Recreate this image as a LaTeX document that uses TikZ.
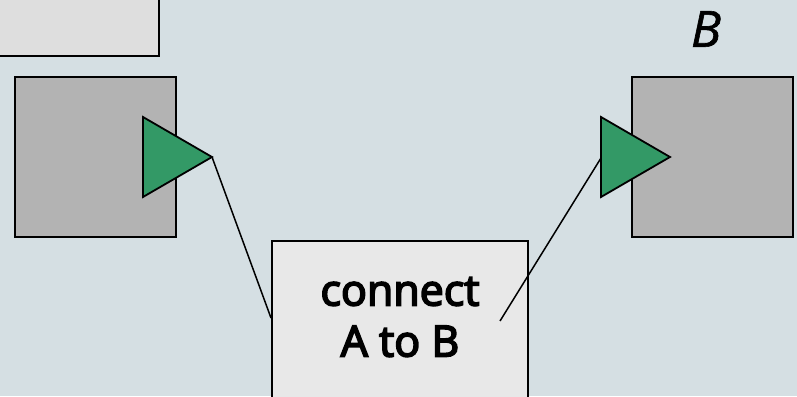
\documentclass[tikz,border=0pt]{standalone}
\usepackage{fontspec}
\setmainfont{Open Sans}
\newfontfamily\mediumfont[FakeBold=4]{Open Sans}
\newfontfamily\labelfont[FakeBold=1.2]{Open Sans}
\definecolor{bgcol}{HTML}{D5DFE3}
\definecolor{blockgray}{HTML}{B3B3B3}
\definecolor{portgreen}{HTML}{339966}
\definecolor{notefill}{HTML}{DEDEDE}
\definecolor{boxfill}{HTML}{E8E8E8}
\begin{document}
\begin{tikzpicture}[x=1pt,y=-1pt,
  outline/.style={draw=black,line width=1.8pt},
  block/.style={outline,fill=blockgray},
  port/.style={outline,fill=portgreen,line join=miter},
  wire/.style={draw=black,line width=1.5pt}]
  \useasboundingbox (0,0) rectangle (797,396);
  \clip (0,0) rectangle (797,396);
  \fill[bgcol] (0,0) rectangle (797,396);

  % partially visible note at the top left
  \draw[outline,fill=notefill] (-10,-10) rectangle (159,56);

  % block A with its output port
  \draw[block] (15,77) rectangle (176,237);
  \draw[port] (143,117) -- (143,197) -- (212,157) coordinate (aout) -- cycle;

  % block B with its input port
  \draw[block] (632,77) rectangle (793,237);
  \draw[port] (601,117) -- (601,197) -- (670,157) -- cycle;
  \coordinate (bin) at (601,158);
  \node[font=\labelfont\itshape\fontsize{50}{54}\selectfont] (blabel) at (706,29) {B};

  % connection box
  \node[outline,fill=boxfill,minimum width=256pt,minimum height=170pt,anchor=north west,inner sep=0pt] (conn) at (271,240) {};
  \node[align=center,font=\mediumfont\fontsize{43}{51}\selectfont] (conntext) at (400,317) {connect\\A to B};

  \coordinate (lend) at (271,318);
  \coordinate (rend) at (500,321);
  \draw[wire] (aout) -- (lend);
  \draw[wire] (rend) -- (bin);
\end{tikzpicture}
\end{document}
